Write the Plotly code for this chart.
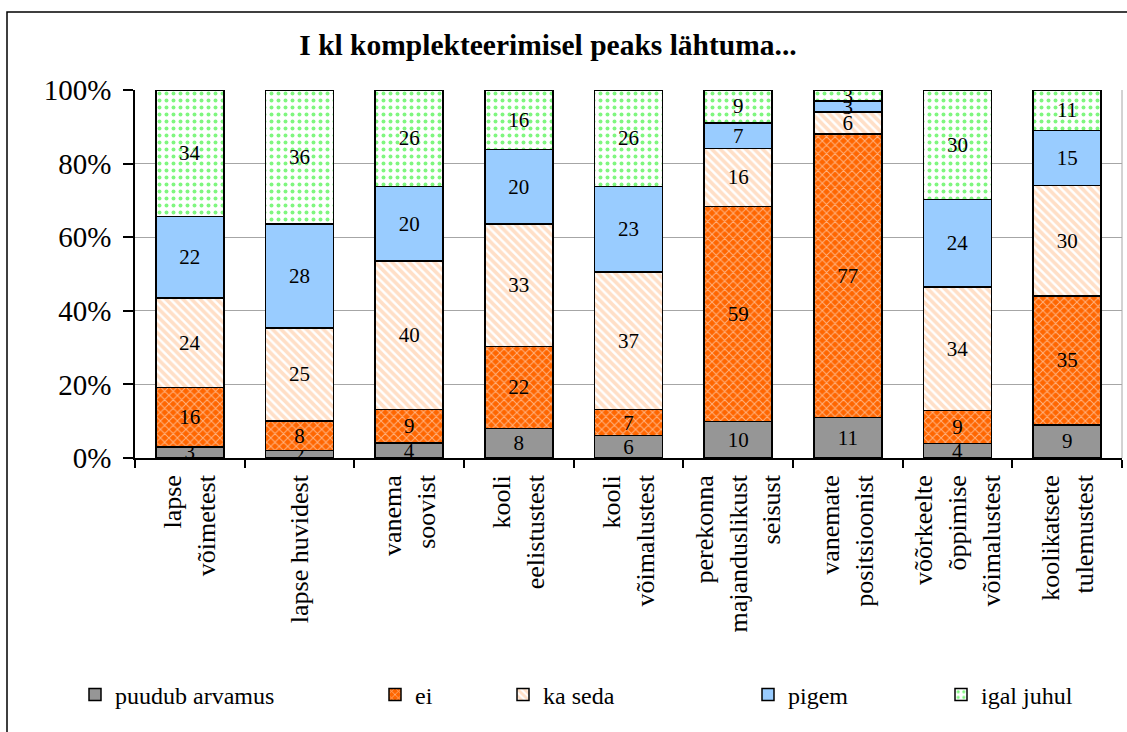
import plotly.graph_objects as go

# Categories (tick labels) and series values
categories = [
    "lapse<br>võimetest",
    "lapse huvidest",
    "vanema<br>soovist",
    "kooli<br>eelistustest",
    "kooli<br>võimalustest",
    "perekonna<br>majanduslikust<br>seisust",
    "vanemate<br>positsioonist",
    "võõrkeelte<br>õppimise<br>võimalustest",
    "koolikatsete<br>tulemustest",
]
puudub_arvamus = [3, 2, 4, 8, 6, 10, 11, 4, 9]
ei = [16, 8, 9, 22, 7, 59, 77, 9, 35]
ka_seda = [24, 25, 40, 33, 37, 16, 6, 34, 30]
pigem = [22, 28, 20, 20, 23, 7, 3, 24, 15]
igal_juhul = [34, 36, 26, 16, 26, 9, 3, 30, 11]

FONT = "Liberation Serif"

# plot area in pixels (used to place things in paper coords)
L, R, T, B = 135, 1122, 90, 458
W, H = 1127, 732
pw, ph = R - L, B - T


def px_x(px):
    return (px - L) / pw


def px_y(py):
    return (B - py) / ph


series = [
    ("puudub arvamus", puudub_arvamus,
     dict(color="#969696"), "legend"),
    ("ei", ei,
     dict(color="#FF6600", pattern=dict(shape="x", bgcolor="#FF6600", fgcolor="white",
                                         size=6, solidity=0.3)), "legend2"),
    ("ka seda", ka_seda,
     dict(color="#FFCC99", pattern=dict(shape="\\", bgcolor="white", fgcolor="#FFC090",
                                         size=6, solidity=0.6)), "legend3"),
    ("pigem", pigem,
     dict(color="#99CCFF"), "legend4"),
    ("igal juhul", igal_juhul,
     dict(color="#00FF00", pattern=dict(shape=".", bgcolor="white", fgcolor="#00EE00",
                                         size=7, solidity=0.25)), "legend5"),
]

fig = go.Figure()
for name, vals, marker, leg in series:
    marker["line"] = dict(color="black", width=1.5)
    fig.add_trace(go.Bar(
        x=categories, y=vals, name=name, marker=marker, legend=leg, showlegend=True,
        text=vals, textposition="inside", insidetextanchor="middle", textangle=0,
        textfont=dict(family=FONT, size=21, color="black"),
    ))

# legend positions (swatch centres in px), one small legend per series
swatch_centres = [95, 395, 523, 768, 961]
legend_y = px_y(695)
legends = {}
for i, cx in enumerate(swatch_centres):
    key = "legend" if i == 0 else "legend%d" % (i + 1)
    legends[key] = dict(
        x=px_x(cx - 20), y=legend_y, xanchor="left", yanchor="middle",
        orientation="h", bgcolor="rgba(0,0,0,0)",
        font=dict(family=FONT, size=24, color="black"),
    )

fig.update_layout(
    width=W, height=H,
    margin=dict(l=L, r=W - R, t=T, b=H - B, autoexpand=False),
    barmode="stack", barnorm="percent", bargap=0.38,
    paper_bgcolor="white", plot_bgcolor="white",
    font=dict(family=FONT, color="black"),
    uniformtext=dict(minsize=21, mode="show"),
    showlegend=True,
    title=dict(
        text="<b>I kl komplekteerimisel peaks lähtuma...</b>",
        x=548 / W, xref="container", xanchor="center",
        y=1 - 45 / H, yref="container", yanchor="middle",
        font=dict(family=FONT, size=29.5, color="black"),
    ),
    **legends,
)

fig.update_yaxes(
    range=[0, 100], dtick=20, ticksuffix="%",
    showgrid=True, gridcolor="#A6A6A6", gridwidth=1,
    showline=True, linecolor="black", linewidth=1.5,
    ticks="outside", ticklen=10, tickcolor="black", tickwidth=1.5,
    tickfont=dict(family=FONT, size=29, color="black"),
    ticklabelstandoff=6, zeroline=False,
)
fig.update_xaxes(
    tickangle=-90, tickson="boundaries",
    showline=True, linecolor="black", linewidth=1.5,
    ticks="outside", ticklen=8, tickcolor="black", tickwidth=1.5,
    tickfont=dict(family=FONT, size=26, color="black"),
    ticklabelstandoff=5, showgrid=False,
)

# gray right border of plot area and outer chart frame
fig.add_shape(type="line", xref="paper", yref="paper", x0=1, x1=1, y0=0, y1=1,
              line=dict(color="#A6A6A6", width=1))
fig.add_shape(type="rect", xref="paper", yref="paper",
              x0=px_x(7), x1=px_x(W + 20), y0=px_y(H + 20), y1=px_y(12),
              line=dict(color="black", width=1.5), layer="below")

fig.write_html("out.html", config={"displayModeBar": False},
               post_script="document.body.style.margin='0';")
